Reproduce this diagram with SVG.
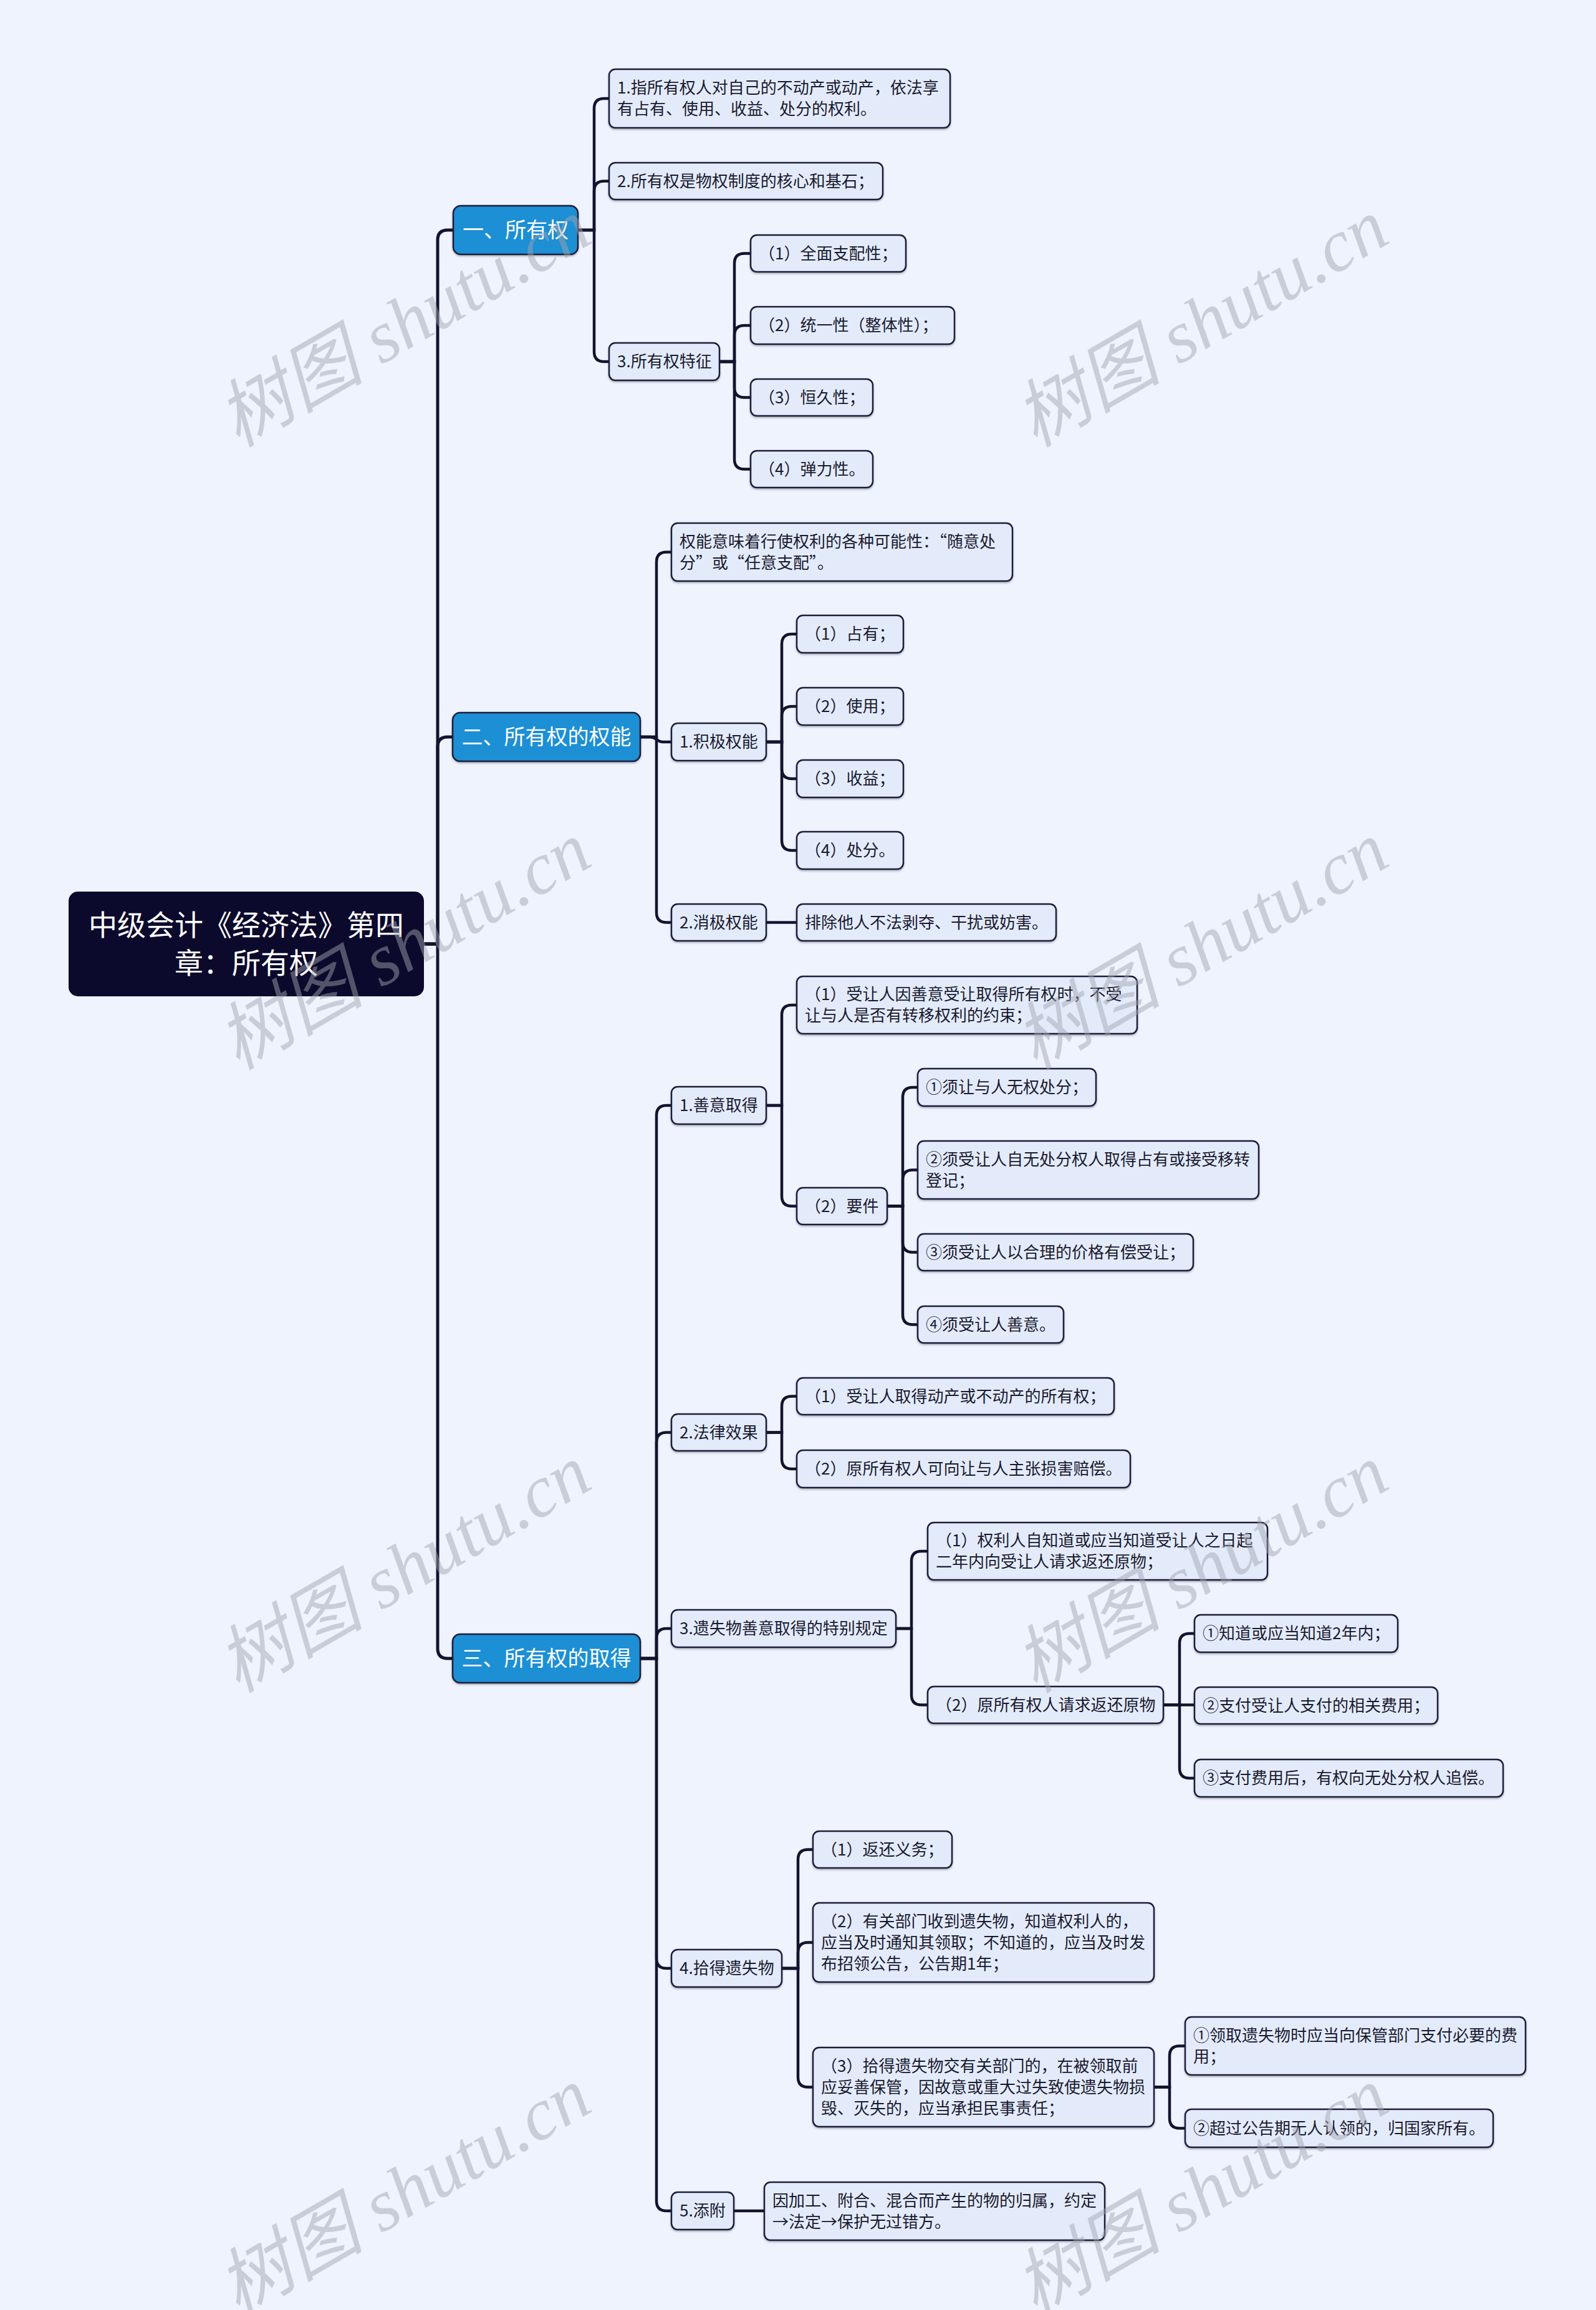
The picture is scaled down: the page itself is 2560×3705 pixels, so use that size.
<svg xmlns="http://www.w3.org/2000/svg" width="2560" height="3705" viewBox="0 0 2560 3705">
<defs>
<filter id="sh" x="-5%" y="-10%" width="110%" height="130%">
<feDropShadow dx="0" dy="2" stdDeviation="1.5" flood-color="#000" flood-opacity="0.28"/>
</filter>
<style>
.n rect{fill:#e3ebfb;stroke:#1c1c3a;stroke-width:2.5;filter:url(#sh)}
.n text{font-family:"Noto Sans CJK SC","Noto Sans",sans-serif;font-size:26px;fill:#1a1a2e}
.l1 rect{fill:#1b8fd5;stroke:#1c1c3a;stroke-width:2.5;filter:url(#sh)}
.l1 text{font-family:"Noto Sans CJK SC","Noto Sans",sans-serif;font-size:34px;fill:#ffffff;text-anchor:middle}
.root rect{fill:#0c0a2c;stroke:#0c0a2c;stroke-width:2}
.root text{font-family:"Noto Sans CJK SC","Noto Sans",sans-serif;font-size:46px;fill:#ffffff;text-anchor:middle}
.c path{fill:none;stroke:#14132f;stroke-width:4.5;stroke-linecap:round}
.c path.m{stroke-width:5}
.wm text{font-family:"Liberation Serif","Noto Sans CJK SC",serif;font-style:italic;font-size:118px;fill:#a0a4ad;fill-opacity:0.48;text-anchor:middle}
</style>
</defs>
<rect x="0" y="0" width="2560" height="3705" fill="#eef3fe"/>

<g id="connectors" class="c">
<path class="m" d="M679 1514 H702 V385 Q702 369 718 369 H726"/>
<path class="m" d="M679 1514 H702 V1198 Q702 1182 718 1182 H726"/>
<path class="m" d="M679 1514 H702 V2644 Q702 2660 718 2660 H726"/>

<path d="M927 369 H953 V174 Q953 158 969 158 H977"/>
<path d="M927 369 H953 V306.5 Q953 290.5 969 290.5 H977"/>
<path d="M927 369 H953 V564 Q953 580 969 580 H977"/>

<path d="M1154 580 H1178 V422.5 Q1178 406.5 1194 406.5 H1204"/>
<path d="M1154 580 H1178 V538 Q1178 522 1194 522 H1204"/>
<path d="M1154 580 H1178 V621.5 Q1178 637.5 1194 637.5 H1204"/>
<path d="M1154 580 H1178 V736.5 Q1178 752.5 1194 752.5 H1204"/>

<path d="M1027 1182 H1053 V901.5 Q1053 885.5 1069 885.5 H1077"/>
<path d="M1027 1182 H1043 C1053 1182 1053 1190 1063 1190 H1077"/>
<path d="M1027 1182 H1053 V1463.5 Q1053 1479.5 1069 1479.5 H1077"/>

<path d="M1229 1190 H1254 V1033 Q1254 1017 1270 1017 H1278"/>
<path d="M1229 1190 H1254 V1149 Q1254 1133 1270 1133 H1278"/>
<path d="M1229 1190 H1254 V1233 Q1254 1249 1270 1249 H1278"/>
<path d="M1229 1190 H1254 V1348 Q1254 1364 1270 1364 H1278"/>
<path d="M1229 1479.5 H1278"/>

<path d="M1027 2660 H1053 V1789 Q1053 1773 1069 1773 H1077"/>
<path d="M1027 2660 H1053 V2313.5 Q1053 2297.5 1069 2297.5 H1077"/>
<path d="M1027 2660 H1053 V2628 Q1053 2612 1069 2612 H1077"/>
<path d="M1027 2660 H1053 V3141 Q1053 3157 1069 3157 H1077"/>
<path d="M1027 2660 H1053 V3530 Q1053 3546 1069 3546 H1077"/>

<path d="M1229 1773 H1254 V1628 Q1254 1612 1270 1612 H1278"/>
<path d="M1229 1773 H1254 V1918.5 Q1254 1934.5 1270 1934.5 H1278"/>

<path d="M1423 1934.5 H1448 V1760 Q1448 1744 1464 1744 H1472"/>
<path d="M1423 1934.5 H1448 V1892.5 Q1448 1876.5 1464 1876.5 H1472"/>
<path d="M1423 1934.5 H1448 V1992.5 Q1448 2008.5 1464 2008.5 H1472"/>
<path d="M1423 1934.5 H1448 V2108.5 Q1448 2124.5 1464 2124.5 H1472"/>

<path d="M1229 2297.5 H1254 V2255.5 Q1254 2239.5 1270 2239.5 H1278"/>
<path d="M1229 2297.5 H1254 V2340 Q1254 2356 1270 2356 H1278"/>

<path d="M1437 2612 H1462 V2504 Q1462 2488 1478 2488 H1488"/>
<path d="M1437 2612 H1462 V2718.5 Q1462 2734.5 1478 2734.5 H1488"/>

<path d="M1866 2734.5 H1892 V2636 Q1892 2620 1908 2620 H1916"/>
<path d="M1866 2734.5 H1916"/>
<path d="M1866 2734.5 H1892 V2836 Q1892 2852 1908 2852 H1916"/>

<path d="M1254 3157 H1280 V2982.5 Q1280 2966.5 1296 2966.5 H1304"/>
<path d="M1254 3157 H1280 V3131.5 Q1280 3115.5 1296 3115.5 H1304"/>
<path d="M1254 3157 H1280 V3331.5 Q1280 3347.5 1296 3347.5 H1304"/>

<path d="M1851 3347.5 H1876 V3297.5 Q1876 3281.5 1892 3281.5 H1901"/>
<path d="M1851 3347.5 H1876 V3397.5 Q1876 3413.5 1892 3413.5 H1901"/>

<path d="M1177 3546 H1226"/>
</g>

<g id="root" class="root">
<rect x="111" y="1431" width="568" height="166" rx="14"/>
<text x="395" y="1500">中级会计《经济法》第四</text>
<text x="395" y="1561">章：所有权</text>
</g>

<g id="n1" class="l1"><rect x="727" y="330" width="200" height="78" rx="12"/><text x="827" y="381">一、所有权</text></g>
<g id="n2" class="l1"><rect x="726" y="1143" width="301" height="78" rx="12"/><text x="876.5" y="1194">二、所有权的权能</text></g>
<g id="n3" class="l1"><rect x="726" y="2621" width="301" height="78" rx="12"/><text x="876.5" y="2672">三、所有权的取得</text></g>

<g id="a1" class="n"><rect x="977" y="111" width="547" height="94" rx="10"/><text x="990" y="150">1.指所有权人对自己的不动产或动产，依法享</text><text x="990" y="184">有占有、使用、收益、处分的权利。</text></g>
<g id="a2" class="n"><rect x="977" y="261" width="439" height="59" rx="10"/><text x="990" y="299.5">2.所有权是物权制度的核心和基石；</text></g>
<g id="a3" class="n"><rect x="977" y="550" width="177" height="60" rx="10"/><text x="990" y="589">3.所有权特征</text></g>
<g id="a3a" class="n"><rect x="1204" y="377" width="249" height="59" rx="10"/><text x="1217" y="415.5">（1）全面支配性；</text></g>
<g id="a3b" class="n"><rect x="1204" y="492" width="327" height="60" rx="10"/><text x="1217" y="531">（2）统一性（整体性）；</text></g>
<g id="a3c" class="n"><rect x="1204" y="608" width="196" height="59" rx="10"/><text x="1217" y="646.5">（3）恒久性；</text></g>
<g id="a3d" class="n"><rect x="1204" y="723" width="196" height="59" rx="10"/><text x="1217" y="761.5">（4）弹力性。</text></g>

<g id="b1" class="n"><rect x="1077" y="839" width="547" height="93" rx="10"/><text x="1090" y="877.5">权能意味着行使权利的各种可能性：“随意处</text><text x="1090" y="911.5">分”或“任意支配”。</text></g>
<g id="b2" class="n"><rect x="1077" y="1160" width="152" height="60" rx="10"/><text x="1090" y="1199">1.积极权能</text></g>
<g id="b2a" class="n"><rect x="1278" y="987" width="171" height="60" rx="10"/><text x="1291" y="1026">（1）占有；</text></g>
<g id="b2b" class="n"><rect x="1278" y="1103" width="171" height="60" rx="10"/><text x="1291" y="1142">（2）使用；</text></g>
<g id="b2c" class="n"><rect x="1278" y="1219" width="171" height="60" rx="10"/><text x="1291" y="1258">（3）收益；</text></g>
<g id="b2d" class="n"><rect x="1278" y="1334" width="171" height="60" rx="10"/><text x="1291" y="1373">（4）处分。</text></g>
<g id="b3" class="n"><rect x="1077" y="1450" width="152" height="59" rx="10"/><text x="1090" y="1488.5">2.消极权能</text></g>
<g id="b3a" class="n"><rect x="1278" y="1450" width="416" height="59" rx="10"/><text x="1291" y="1488.5">排除他人不法剥夺、干扰或妨害。</text></g>

<g id="c1" class="n"><rect x="1077" y="1743" width="152" height="60" rx="10"/><text x="1090" y="1782">1.善意取得</text></g>
<g id="c1a" class="n"><rect x="1278" y="1566" width="546" height="92" rx="10"/><text x="1291" y="1604">（1）受让人因善意受让取得所有权时，不受</text><text x="1291" y="1638">让与人是否有转移权利的约束；</text></g>
<g id="c1b" class="n"><rect x="1278" y="1905" width="145" height="59" rx="10"/><text x="1291" y="1943.5">（2）要件</text></g>
<g id="c1b1" class="n"><rect x="1472" y="1714" width="286" height="60" rx="10"/><text x="1485" y="1753">①须让与人无权处分；</text></g>
<g id="c1b2" class="n"><rect x="1472" y="1830" width="547" height="93" rx="10"/><text x="1485" y="1868.5">②须受让人自无处分权人取得占有或接受移转</text><text x="1485" y="1902.5">登记；</text></g>
<g id="c1b3" class="n"><rect x="1472" y="1979" width="442" height="59" rx="10"/><text x="1485" y="2017.5">③须受让人以合理的价格有偿受让；</text></g>
<g id="c1b4" class="n"><rect x="1472" y="2095" width="234" height="59" rx="10"/><text x="1485" y="2133.5">④须受让人善意。</text></g>

<g id="c2" class="n"><rect x="1077" y="2268" width="152" height="59" rx="10"/><text x="1090" y="2306.5">2.法律效果</text></g>
<g id="c2a" class="n"><rect x="1278" y="2210" width="509" height="59" rx="10"/><text x="1291" y="2248.5">（1）受让人取得动产或不动产的所有权；</text></g>
<g id="c2b" class="n"><rect x="1278" y="2326" width="535" height="60" rx="10"/><text x="1291" y="2365">（2）原所有权人可向让与人主张损害赔偿。</text></g>

<g id="c3" class="n"><rect x="1077" y="2582" width="360" height="60" rx="10"/><text x="1090" y="2621">3.遗失物善意取得的特别规定</text></g>
<g id="c3a" class="n"><rect x="1488" y="2442" width="545" height="92" rx="10"/><text x="1501" y="2480">（1）权利人自知道或应当知道受让人之日起</text><text x="1501" y="2514">二年内向受让人请求返还原物；</text></g>
<g id="c3b" class="n"><rect x="1488" y="2705" width="378" height="59" rx="10"/><text x="1501" y="2743.5">（2）原所有权人请求返还原物</text></g>
<g id="c3b1" class="n"><rect x="1916" y="2590" width="326" height="60" rx="10"/><text x="1929" y="2629">①知道或应当知道2年内；</text></g>
<g id="c3b2" class="n"><rect x="1916" y="2706" width="390" height="59" rx="10"/><text x="1929" y="2744.5">②支付受让人支付的相关费用；</text></g>
<g id="c3b3" class="n"><rect x="1916" y="2822" width="495" height="60" rx="10"/><text x="1929" y="2861">③支付费用后，有权向无处分权人追偿。</text></g>

<g id="c4" class="n"><rect x="1077" y="3127" width="177" height="60" rx="10"/><text x="1090" y="3166">4.拾得遗失物</text></g>
<g id="c4a" class="n"><rect x="1304" y="2937" width="223" height="59" rx="10"/><text x="1317" y="2975.5">（1）返还义务；</text></g>
<g id="c4b" class="n"><rect x="1304" y="3052" width="547" height="127" rx="10"/><text x="1317" y="3090.5">（2）有关部门收到遗失物，知道权利人的，</text><text x="1317" y="3124.5">应当及时通知其领取；不知道的，应当及时发</text><text x="1317" y="3158.5">布招领公告，公告期1年；</text></g>
<g id="c4c" class="n"><rect x="1304" y="3284" width="547" height="127" rx="10"/><text x="1317" y="3322.5">（3）拾得遗失物交有关部门的，在被领取前</text><text x="1317" y="3356.5">应妥善保管，因故意或重大过失致使遗失物损</text><text x="1317" y="3390.5">毁、灭失的，应当承担民事责任；</text></g>
<g id="c4c1" class="n"><rect x="1901" y="3235" width="546" height="93" rx="10"/><text x="1914" y="3273.5">①领取遗失物时应当向保管部门支付必要的费</text><text x="1914" y="3307.5">用；</text></g>
<g id="c4c2" class="n"><rect x="1901" y="3383" width="494" height="61" rx="10"/><text x="1914" y="3422.5">②超过公告期无人认领的，归国家所有。</text></g>

<g id="c5" class="n"><rect x="1077" y="3516" width="100" height="60" rx="10"/><text x="1090" y="3555">5.添附</text></g>
<g id="c5a" class="n"><rect x="1226" y="3500" width="546" height="93" rx="10"/><text x="1239" y="3538.5">因加工、附合、混合而产生的物的归属，约定</text><text x="1239" y="3572.5">→法定→保护无过错方。</text></g>

<g id="watermarks" class="wm">
<text transform="translate(648 518) rotate(-30)" y="40">树图 shutu.cn</text>
<text transform="translate(1927 518) rotate(-30)" y="40">树图 shutu.cn</text>
<text transform="translate(648 1517) rotate(-30)" y="40">树图 shutu.cn</text>
<text transform="translate(1927 1517) rotate(-30)" y="40">树图 shutu.cn</text>
<text transform="translate(648 2516) rotate(-30)" y="40">树图 shutu.cn</text>
<text transform="translate(1927 2516) rotate(-30)" y="40">树图 shutu.cn</text>
<text transform="translate(648 3515) rotate(-30)" y="40">树图 shutu.cn</text>
<text transform="translate(1927 3515) rotate(-30)" y="40">树图 shutu.cn</text>
</g>
</svg>
